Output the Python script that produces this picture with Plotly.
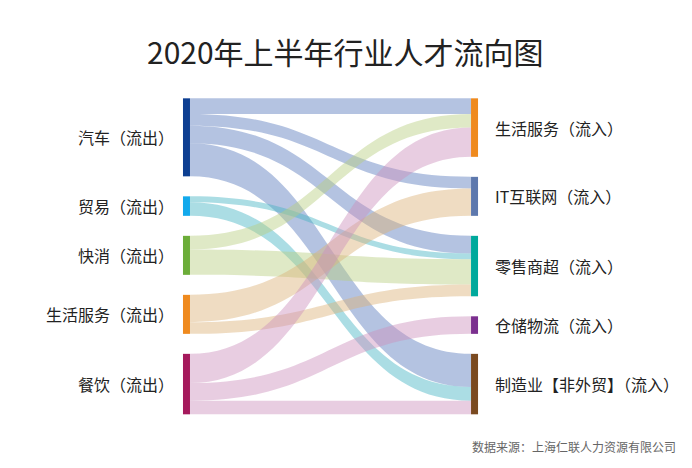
import plotly.graph_objects as go

title_text = "2020年上半年行业人才流向图"
source_note = "数据来源：上海仁联人力资源有限公司"

# nodes: outflow industries (left) and inflow industries (right)
out_names = ["汽车（流出）", "贸易（流出）", "快消（流出）", "生活服务（流出）", "餐饮（流出）"]
in_names = ["生活服务（流入）", "IT互联网（流入）", "零售商超（流入）", "仓储物流（流入）", "制造业【非外贸】（流入）"]

out_colors = ["#0d3f92", "#12a9ec", "#6cad39", "#ef8a1e", "#a5195c"]
in_colors = ["#ef8a1e", "#5d78ad", "#00a99c", "#7b2f8f", "#7a4a20"]
link_colors_by_source = [
    "rgba(88,122,188,0.45)",
    "rgba(68,179,195,0.45)",
    "rgba(184,206,128,0.45)",
    "rgba(219,177,119,0.45)",
    "rgba(204,144,188,0.45)",
]

# flows (index into out_names -> index into in_names)
link_src = [0, 0, 0, 0, 1, 1, 2, 2, 3, 3, 4, 4, 4]
link_tgt = [0, 1, 2, 4, 2, 4, 0, 2, 1, 2, 0, 3, 4]
link_val = [0.8, 0.6, 0.9, 1.7, 0.3, 0.7, 0.7, 1.3, 1.4, 0.6, 1.5, 0.9, 0.7]

# layout geometry (the page adds an 8px body margin, so everything sits 8px up/left)
fig_w, fig_h = 692, 468
dom_x = [0.2575, 0.6746]
dom_y = [0.1318, 0.807]
node_pad = 20
node_thick = 7

n_out = len(out_names)
n_in = len(in_names)
out_tot = [sum(v for s, v in zip(link_src, link_val) if s == i) for i in range(n_out)]
in_tot = [sum(v for t, v in zip(link_tgt, link_val) if t == i) for i in range(n_in)]

dom_h = (dom_y[1] - dom_y[0]) * fig_h
ky = (dom_h - (n_out - 1) * node_pad) / sum(out_tot)


def stacked_centres(totals):
    # keep nodes in the given order, stacked from the top with fixed padding
    res, cum = [], 0.0
    for i, v in enumerate(totals):
        res.append(((cum + v / 2) * ky + i * node_pad) / dom_h)
        cum += v
    return res


out_y = stacked_centres(out_tot)
in_y = stacked_centres(in_tot)

fig = go.Figure(go.Sankey(
    domain=dict(x=dom_x, y=dom_y),
    arrangement="fixed",
    node=dict(
        label=[""] * (n_out + n_in),
        customdata=out_names + in_names,
        hovertemplate="%{customdata}: %{value}<extra></extra>",
        color=out_colors + in_colors,
        line=dict(width=0),
        pad=node_pad,
        thickness=node_thick,
        x=[0.001] * n_out + [0.999] * n_in,
        y=out_y + in_y,
    ),
    link=dict(
        source=link_src,
        target=[t + n_out for t in link_tgt],
        value=link_val,
        color=[link_colors_by_source[s] for s in link_src],
        hoverinfo="none",
    ),
))

# node labels sit outside the columns
anns = []
for name, yc in zip(out_names, out_y):
    anns.append(dict(x=dom_x[0], y=dom_y[1] - yc * (dom_y[1] - dom_y[0]), xref="paper", yref="paper",
                     text=name, showarrow=False, xanchor="right", yanchor="middle", xshift=-10,
                     font=dict(size=16, color="#222222")))
for name, yc in zip(in_names, in_y):
    anns.append(dict(x=dom_x[1], y=dom_y[1] - yc * (dom_y[1] - dom_y[0]), xref="paper", yref="paper",
                     text=name, showarrow=False, xanchor="left", yanchor="middle", xshift=18,
                     font=dict(size=16, color="#222222")))
anns.append(dict(x=0.4884, y=0.908, xref="paper", yref="paper", text=title_text, showarrow=False,
                 xanchor="center", yanchor="middle", font=dict(size=30, color="#222222")))
anns.append(dict(x=0.968, y=0.062, xref="paper", yref="paper", text=source_note, showarrow=False,
                 xanchor="right", yanchor="middle", font=dict(size=12, color="#666666")))

fig.update_layout(
    width=fig_w,
    height=fig_h,
    margin=dict(l=0, r=0, t=0, b=0),
    paper_bgcolor="white",
    plot_bgcolor="white",
    font=dict(family="Noto Sans CJK SC, sans-serif"),
    annotations=anns,
)

fig.write_html("out.html")
